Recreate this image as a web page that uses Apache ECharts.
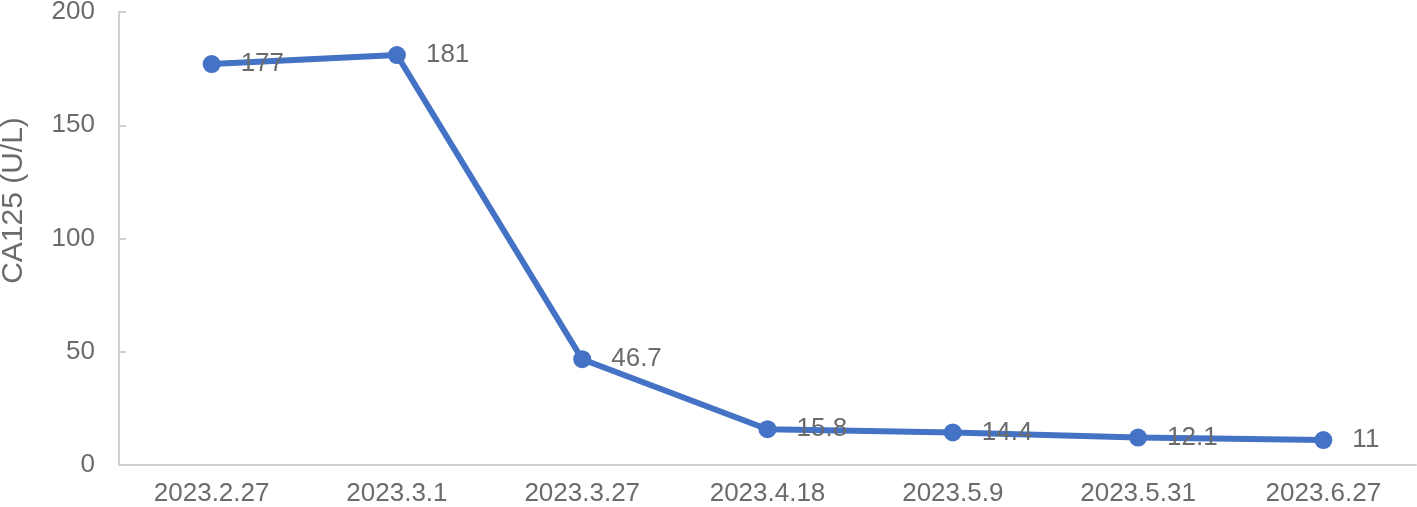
<!DOCTYPE html>
<html lang="en" style="height: 100%">
<head>
  <meta charset="utf-8">
</head>
<body style="height: 100%; margin: 0">
  <div id="container" style="height: 100%"></div>
  <script type="text/javascript" src="https://cdn.jsdelivr.net/npm/echarts@6/dist/echarts.min.js"></script>
  <script type="text/javascript">
    const dates = ['2023.2.27', '2023.3.1', '2023.3.27', '2023.4.18', '2023.5.9', '2023.5.31', '2023.6.27'];
    const ca125 = [177, 181, 46.7, 15.8, 14.4, 12.1, 11];

    var dom = document.getElementById('container');
    var myChart = echarts.init(dom, null, { renderer: 'canvas' });
    var textColor = '#6b6b6b';
    var fontFamily = 'Liberation Sans, Arial, sans-serif';

    var option = {
      animation: false,
      backgroundColor: '#ffffff',
      grid: { left: 119, right: 1, top: 12, bottom: 42, outerBoundsMode: 'none', containLabel: false },
      xAxis: {
        type: 'category',
        data: dates,
        axisLine: { lineStyle: { color: '#d0d0d0', width: 2 } },
        axisTick: { show: false },
        axisLabel: { color: textColor, fontSize: 26, fontFamily: fontFamily, margin: 16 }
      },
      yAxis: {
        type: 'value',
        min: 0,
        max: 200,
        interval: 50,
        name: 'CA125 (U/L)',
        nameLocation: 'middle',
        nameGap: 90,
        nameTextStyle: {
          color: textColor,
          fontSize: 30,
          fontFamily: fontFamily,
          padding: [0, 0, 0, 76]
        },
        axisLine: { show: true, lineStyle: { color: '#d0d0d0', width: 2 } },
        axisTick: { show: true, inside: true, length: 7, lineStyle: { color: '#d0d0d0', width: 2 } },
        splitLine: { show: false },
        axisLabel: { color: textColor, fontSize: 26, fontFamily: fontFamily, margin: 24 }
      },
      series: [
        {
          type: 'line',
          data: ca125,
          symbol: 'circle',
          symbolSize: 18,
          lineStyle: { color: '#4472C4', width: 6 },
          itemStyle: { color: '#4472C4' },
          label: {
            show: true,
            position: 'right',
            distance: 20,
            color: textColor,
            fontSize: 26,
            fontFamily: fontFamily
          }
        }
      ]
    };

    myChart.setOption(option);
    window.addEventListener('resize', myChart.resize);
  </script>
</body>
</html>
